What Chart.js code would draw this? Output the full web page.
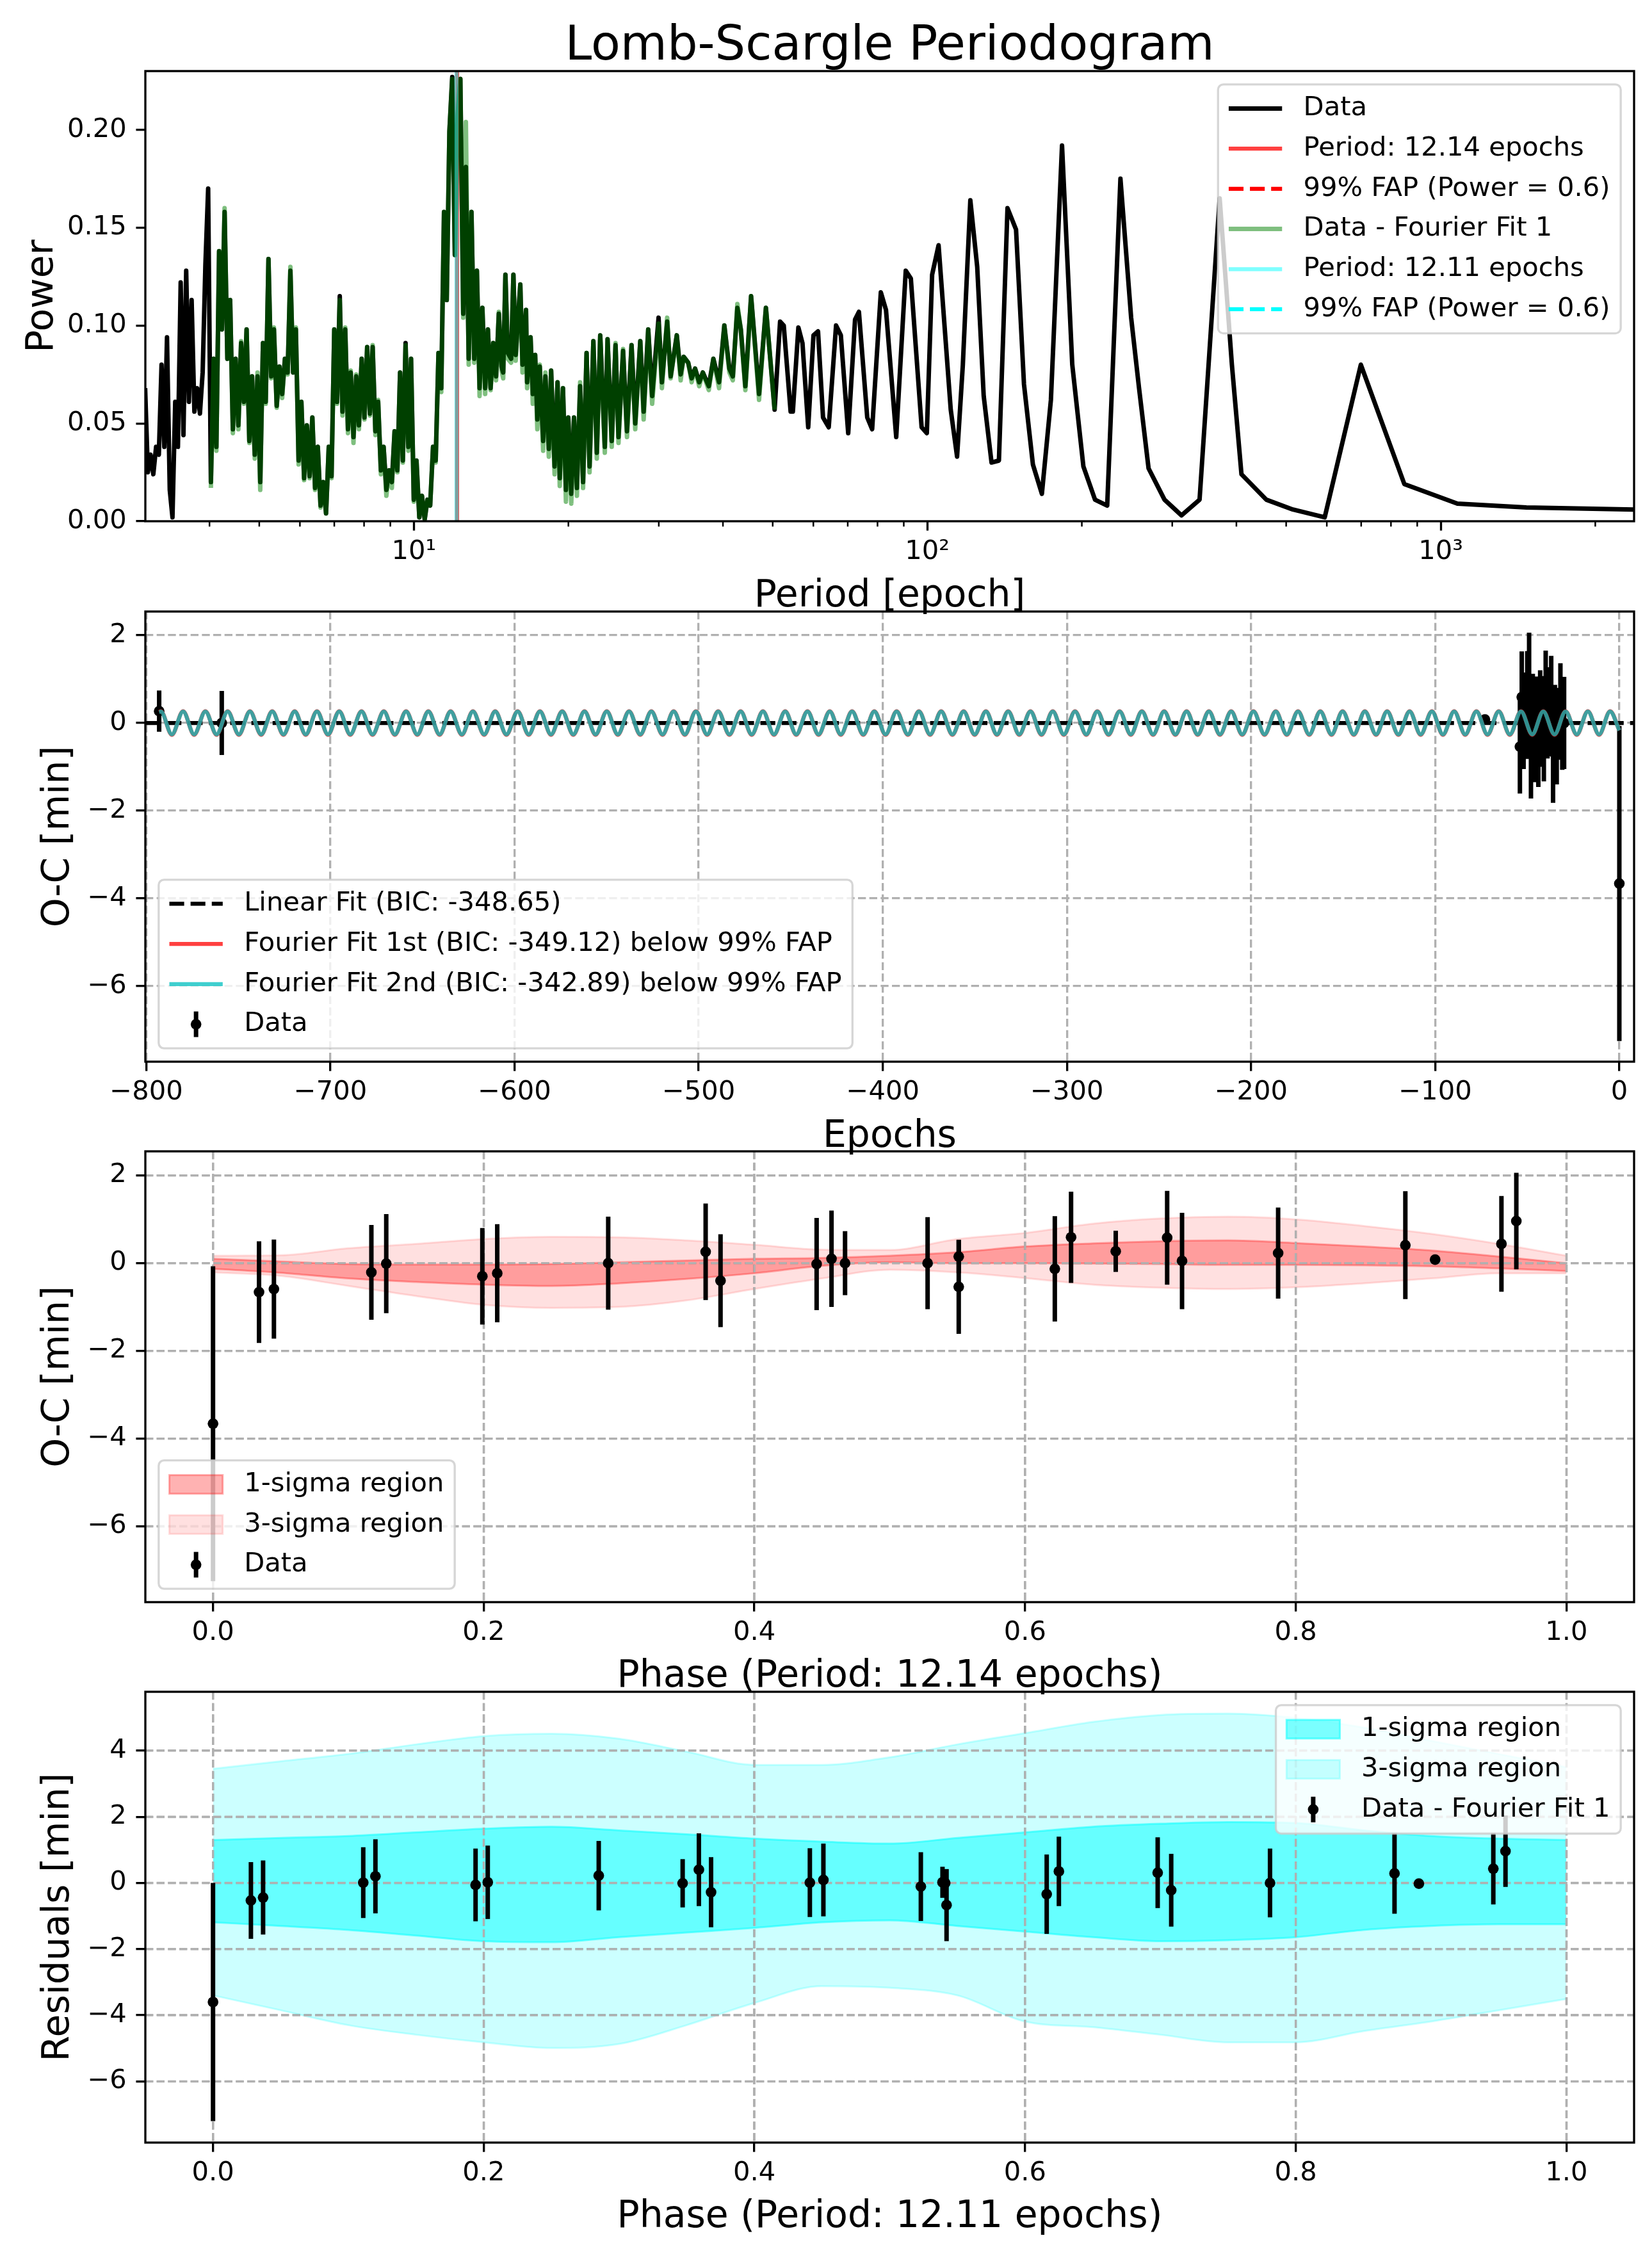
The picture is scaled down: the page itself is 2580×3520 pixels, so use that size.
<!DOCTYPE html>
<html>
<head>
<meta charset="utf-8">
<script src="https://cdn.jsdelivr.net/npm/chart.js@4.4.1/dist/chart.umd.min.js"></script>
<style>
  html, body { margin: 0; padding: 0; background: #fff; }
  body { width: 2580px; height: 3520px; position: relative; overflow: hidden; }
  canvas { position: absolute; left: 0; }
</style>
</head>
<body>
<canvas id="periodogram" width="2580" height="970" style="top:0px"></canvas>
<canvas id="ocEpochs" width="2580" height="920" style="top:900px"></canvas>
<canvas id="ocPhase" width="2580" height="918" style="top:1740px"></canvas>
<canvas id="residPhase" width="2580" height="912" style="top:2590px"></canvas>
<script>
// ---- Periodogram (panel 1) ----
const periods = [
  2.997, 3.034, 3.071, 3.109, 3.148, 3.187, 3.226, 3.266, 3.306, 3.347,
  3.388, 3.430, 3.472, 3.515, 3.559, 3.603, 3.647, 3.692, 3.738, 3.784,
  3.832, 3.879, 3.927, 3.976, 4.025, 4.075, 4.125, 4.176, 4.228, 4.280,
  4.334, 4.388, 4.442, 4.497, 4.553, 4.609, 4.666, 4.724, 4.782, 4.841,
  4.900, 4.961, 5.022, 5.084, 5.147, 5.211, 5.275, 5.340, 5.407, 5.473,
  5.541, 5.610, 5.679, 5.749, 5.820, 5.892, 5.965, 6.039, 6.114, 6.189,
  6.266, 6.344, 6.422, 6.501, 6.582, 6.663, 6.746, 6.829, 6.914, 6.999,
  7.086, 7.174, 7.262, 7.352, 7.443, 7.535, 7.629, 7.723, 7.818, 7.915,
  8.013, 8.112, 8.212, 8.314, 8.417, 8.521, 8.627, 8.733, 8.841, 8.951,
  9.062, 9.174, 9.288, 9.402, 9.519, 9.637, 9.756, 9.877, 9.999, 10.12,
  10.25, 10.37, 10.50, 10.63, 10.76, 10.90, 11.03, 11.17, 11.31, 11.45,
  11.59, 11.73, 11.88, 12.02, 12.17, 12.32, 12.48, 12.63, 12.79, 12.95,
  13.11, 13.27, 13.43, 13.60, 13.77, 13.94, 14.11, 14.28, 14.46, 14.64,
  14.82,
  14.93, 15.08, 15.24, 15.47, 15.63, 15.79, 16.12, 16.28, 16.54, 16.62,
  16.88, 17.05, 17.23, 17.40, 17.59, 17.86, 18.04, 18.32, 18.51, 18.80,
  19.05, 19.24, 19.52, 19.78, 19.99, 20.26, 20.51, 20.78, 21.08, 21.36,
  21.70, 21.99, 22.37, 22.72, 23.07, 23.55, 23.84, 24.29, 24.71, 25.04,
  25.56, 26.01, 26.55, 26.99, 27.61, 28.03, 28.61, 29.12, 29.97, 30.42,
  31.15, 31.64, 32.52, 33.09, 33.54, 34.23, 34.76, 35.30, 35.96, 36.55,
  37.54, 38.32, 39.31, 40.25, 41.17, 41.81, 42.67, 43.34, 44.23, 45.38,
  47.03, 48.50, 50.43, 51.68, 52.54, 54.18, 54.73, 56.10, 57.14, 58.63,
  60.03, 61.27, 62.66, 64.28, 66.43, 67.87, 70.15, 72.33,
  73.6, 76.4, 78.1, 81.2, 83.1, 87.0, 90.8, 92.9, 97.5, 99.8,
  102.2, 105.2, 111.1, 114.3, 117.3, 121.3, 125.1, 128.8, 133.4, 137.9,
  143.3, 148.9, 154.3, 160.6, 167.2, 174.1, 183.0, 191.6, 201.4, 212.2,
  224.1, 237.8, 249.5, 258.5, 269.8, 289.8, 312.7, 339.1, 371.1, 392.0,
  409.2, 457.5, 515.3, 594.4, 698.9, 849.4, 1077.6, 1468.5, 2379
];
const power = [
  0.068, 0.025, 0.034, 0.024, 0.038, 0.034, 0.080, 0.038, 0.094, 0.016,
  0.002, 0.061, 0.038, 0.122, 0.044, 0.128, 0.061, 0.113, 0.056, 0.068,
  0.055, 0.076, 0.131, 0.170, 0.020, 0.083, 0.038, 0.138, 0.098, 0.158,
  0.083, 0.113, 0.047, 0.083, 0.049, 0.091, 0.061, 0.098, 0.041, 0.074,
  0.034, 0.074, 0.020, 0.091, 0.061, 0.134, 0.074, 0.098, 0.059, 0.079,
  0.065, 0.083, 0.076, 0.128, 0.076, 0.098, 0.031, 0.061, 0.022, 0.049,
  0.023, 0.053, 0.017, 0.038, 0.008, 0.020, 0.004, 0.038, 0.023, 0.098,
  0.061, 0.115, 0.056, 0.098, 0.047, 0.076, 0.043, 0.074, 0.049, 0.083,
  0.053, 0.089, 0.055, 0.089, 0.046, 0.061, 0.026, 0.038, 0.016, 0.026,
  0.020, 0.046, 0.026, 0.076, 0.031, 0.091, 0.038, 0.083, 0.011, 0.031,
  0.002, 0.013, 0.001, 0.011, 0.008, 0.038, 0.031, 0.086, 0.068, 0.158,
  0.113, 0.199, 0.227, 0.136, 0.207, 0.226, 0.106, 0.181, 0.083, 0.158,
  0.083, 0.128, 0.068, 0.109, 0.068, 0.098, 0.068, 0.091, 0.074, 0.106,
  0.079,
  0.076, 0.126, 0.086, 0.083, 0.126, 0.085, 0.121, 0.080, 0.108, 0.071,
  0.094, 0.065, 0.085, 0.052, 0.079, 0.041, 0.074, 0.037, 0.077, 0.028,
  0.071, 0.022, 0.068, 0.016, 0.053, 0.014, 0.053, 0.017, 0.069, 0.020,
  0.086, 0.028, 0.092, 0.035, 0.095, 0.038, 0.093, 0.041, 0.090, 0.043,
  0.087, 0.046, 0.090, 0.050, 0.092, 0.056, 0.098, 0.064, 0.104, 0.071,
  0.102, 0.074, 0.095, 0.075, 0.084, 0.081, 0.073, 0.078, 0.071, 0.076,
  0.069, 0.083, 0.071, 0.100, 0.078, 0.074, 0.109, 0.098, 0.069, 0.115,
  0.065, 0.109, 0.057, 0.102, 0.100, 0.056, 0.056, 0.099, 0.091, 0.048,
  0.095, 0.097, 0.053, 0.048, 0.100, 0.095, 0.045, 0.103,
  0.107, 0.053, 0.047, 0.117, 0.108, 0.043, 0.128, 0.124, 0.048, 0.045,
  0.126, 0.141, 0.057, 0.033, 0.080, 0.164, 0.130, 0.064, 0.030, 0.031,
  0.160, 0.149, 0.070, 0.029, 0.014, 0.062, 0.192, 0.080, 0.028, 0.011,
  0.008, 0.175, 0.104, 0.068, 0.027, 0.011, 0.003, 0.011, 0.165, 0.080,
  0.024, 0.011, 0.006, 0.002, 0.080, 0.019, 0.009, 0.007, 0.006
];
// periodogram of (data - Fourier fit 1), on the same period grid from 4.0 to 50 epochs
const residGridStart = 24;
const residPower = [
  0.017, 0.083, 0.036, 0.138, 0.098, 0.160, 0.083, 0.113, 0.045, 0.083,
  0.047, 0.092, 0.060, 0.098, 0.040, 0.074, 0.032, 0.076, 0.016, 0.091,
  0.060, 0.134, 0.073, 0.099, 0.058, 0.079, 0.063, 0.083, 0.075, 0.130,
  0.076, 0.099, 0.029, 0.061, 0.021, 0.049, 0.022, 0.053, 0.016, 0.038,
  0.007, 0.020, 0.004, 0.038, 0.022, 0.098, 0.060, 0.113, 0.054, 0.099,
  0.045, 0.077, 0.040, 0.075, 0.047, 0.083, 0.052, 0.089, 0.054, 0.090,
  0.044, 0.062, 0.024, 0.038, 0.013, 0.026, 0.017, 0.046, 0.025, 0.076,
  0.030, 0.090, 0.036, 0.083, 0.010, 0.031, 0.002, 0.013, 0.001, 0.011,
  0.008, 0.038, 0.030, 0.086, 0.066, 0.158, 0.113, 0.199, 0.226, 0.136,
  0.207, 0.226, 0.104, 0.204, 0.080, 0.158, 0.081, 0.128, 0.064, 0.109,
  0.065, 0.098, 0.067, 0.091, 0.072, 0.107, 0.077,
  0.073, 0.126, 0.083, 0.081, 0.126, 0.082, 0.121, 0.076, 0.108, 0.068,
  0.094, 0.060, 0.085, 0.047, 0.080, 0.036, 0.076, 0.033, 0.077, 0.024,
  0.071, 0.018, 0.068, 0.010, 0.053, 0.009, 0.053, 0.013, 0.071, 0.017,
  0.086, 0.025, 0.092, 0.032, 0.095, 0.035, 0.093, 0.038, 0.091, 0.040,
  0.088, 0.043, 0.090, 0.047, 0.092, 0.052, 0.098, 0.060, 0.101, 0.068,
  0.104, 0.073, 0.095, 0.072, 0.084, 0.081, 0.071, 0.078, 0.069, 0.076,
  0.067, 0.083, 0.068, 0.100, 0.076, 0.072, 0.111, 0.098, 0.067, 0.115,
  0.062, 0.109, 0.057
];
const bestPeriod1 = 12.14;
const bestPeriod2 = 12.11;
const fapPower = 0.6;
const logMajorTicks = [10, 100, 1000];
const logMinorTicks = [4, 5, 6, 7, 8, 9, 20, 30, 40, 50, 60, 70, 80, 90,
                       200, 300, 400, 500, 600, 700, 800, 900, 2000];
const logTickLabels = { 10: '10\u00b9', 100: '10\u00b2', 1000: '10\u00b3' };
const powerTicks = [0, 0.05, 0.10, 0.15, 0.20];

// ---- O-C data (panels 2 and 3) ----
const ocEpochs = [-793, -759, -73, -54, -53, -52, -50, -49, -48, -47, -46, -45, -44,
                  -43, -42, -41, -40, -39, -37, -36, -35, -34, -32, -31, -30, 0];
const ocValues = [0.27, 0.00, 0.08, -0.54, 0.59, 0.05, 0.41, 0.96, -0.59, -0.01, -0.23, 0.00, -0.40,
                  0.10, 0.15, -0.13, 0.58, 0.23, 0.44, -0.66, -0.21, -0.30, 0.26, -0.02, 0.00, -3.66];
const ocErrors = [0.47, 0.73, 0.10, 1.07, 1.04, 1.10, 1.23, 1.10, 1.13, 1.13, 1.12, 1.06, 1.06,
                  1.10, 0.38, 1.20, 1.07, 1.04, 1.09, 1.16, 1.08, 1.10, 1.10, 1.05, 1.05, 3.59];
const ocPhases = [0.667, 0.467, 0.903, 0.551, 0.634, 0.716, 0.881, 0.963, 0.045, 0.128, 0.210, 0.292, 0.375,
                  0.457, 0.551, 0.622, 0.705, 0.787, 0.952, 0.034, 0.117, 0.199, 0.364, 0.446, 0.528, 0.000];
const epochTicks = [-800, -700, -600, -500, -400, -300, -200, -100, 0];
const ocTicks = [-6, -4, -2, 0, 2];
const phaseTicks = [0, 0.2, 0.4, 0.6, 0.8, 1.0];
const residTicks = [-6, -4, -2, 0, 2, 4];

// Fourier fits: epochs of the crests and troughs of the fitted curve
const fitCrestEpochs = [
  -792.1, -780.0, -767.9, -755.8, -743.7, -731.6, -719.4, -707.3, -695.2, -683.1,
  -671.0, -658.9, -646.8, -634.7, -622.6, -610.5, -598.3, -586.2, -574.1, -562.0,
  -549.9, -537.8, -525.7, -513.6, -501.5, -489.4, -477.2, -465.1, -453.0, -440.9,
  -428.8, -416.7, -404.6, -392.5, -380.4, -368.3, -356.1, -344.0, -331.9, -319.8,
  -307.7, -295.6, -283.5, -271.4, -259.3, -247.2, -235.0, -222.9, -210.8, -198.7,
  -186.6, -174.5, -162.4, -150.3, -138.2, -126.1, -113.9, -101.8, -89.7, -77.6,
  -65.5, -53.4, -41.3, -29.2, -17.1, -5.0
];
const fitTroughEpochs = [
  -786.1, -774.0, -761.8, -749.7, -737.6, -725.5, -713.4, -701.3, -689.2, -677.1,
  -665.0, -652.8, -640.7, -628.6, -616.5, -604.4, -592.3, -580.2, -568.1, -556.0,
  -543.9, -531.7, -519.6, -507.5, -495.4, -483.3, -471.2, -459.1, -447.0, -434.9,
  -422.8, -410.6, -398.5, -386.4, -374.3, -362.2, -350.1, -338.0, -325.9, -313.8,
  -301.7, -289.5, -277.4, -265.3, -253.2, -241.1, -229.0, -216.9, -204.8, -192.7,
  -180.6, -168.4, -156.3, -144.2, -132.1, -120.0, -107.9, -95.8, -83.7, -71.6,
  -59.5, -47.3, -35.2, -23.1, -11.0
];
const fitEnds = [{ x: -793, y: 0.25 }, { x: 0, y: -0.17 }];
const fit1Amplitude = 0.27;
const fit2Amplitude = 0.26;
const linearFitEpochs = [-800.5, 8];
const linearFitValues = [0.0, 0.0];

// ---- confidence regions (panels 3 and 4) ----
const bandPhases = [0, 0.05, 0.1, 0.15, 0.2, 0.25, 0.3, 0.35, 0.4, 0.45, 0.5,
                    0.55, 0.6, 0.65, 0.7, 0.75, 0.8, 0.85, 0.9, 0.95, 1.0];
const ocSigma1Upper = [0.10, 0.04, -0.02, -0.03, -0.03, -0.02, 0.02, 0.06, 0.10, 0.12, 0.17,
                       0.25, 0.38, 0.45, 0.50, 0.52, 0.46, 0.38, 0.29, 0.15, 0.00];
const ocSigma1Lower = [-0.13, -0.22, -0.35, -0.43, -0.49, -0.52, -0.46, -0.36, -0.23, -0.06, 0.02,
                       0.00, 0.00, -0.01, -0.02, -0.04, -0.04, -0.05, -0.07, -0.12, -0.18];
const ocSigma3Upper = [0.17, 0.18, 0.34, 0.44, 0.55, 0.60, 0.59, 0.52, 0.42, 0.31, 0.30,
                       0.55, 0.69, 0.90, 1.02, 1.06, 1.00, 0.85, 0.67, 0.44, 0.17];
const ocSigma3Lower = [-0.21, -0.29, -0.52, -0.75, -0.95, -1.02, -1.00, -0.85, -0.59, -0.35, -0.15,
                       -0.21, -0.34, -0.49, -0.56, -0.59, -0.55, -0.46, -0.35, -0.23, -0.23];
const resSigma1Upper = [1.30, 1.36, 1.42, 1.53, 1.64, 1.70, 1.59, 1.47, 1.34, 1.25, 1.19,
                        1.36, 1.53, 1.70, 1.79, 1.84, 1.81, 1.59, 1.42, 1.34, 1.30];
const resSigma1Lower = [-1.19, -1.30, -1.42, -1.59, -1.76, -1.79, -1.64, -1.50, -1.36, -1.19, -1.13,
                        -1.30, -1.47, -1.64, -1.76, -1.73, -1.64, -1.42, -1.30, -1.25, -1.25];
const resSigma3Upper = [3.45, 3.68, 3.90, 4.19, 4.44, 4.51, 4.36, 3.97, 3.57, 3.57, 3.80,
                        4.19, 4.53, 4.87, 5.08, 5.12, 4.99, 4.70, 4.30, 3.90, 3.50];
const resSigma3Lower = [-3.40, -3.85, -4.30, -4.59, -4.82, -4.99, -4.87, -4.30, -3.63, -3.12, -3.17,
                        -3.40, -4.19, -4.36, -4.59, -4.82, -4.82, -4.48, -4.19, -3.85, -3.51];

// ---- residuals after Fourier fit 1 (panel 4) ----
const residPhases = [0.000, 0.028, 0.037, 0.111, 0.120, 0.194, 0.203, 0.285, 0.347, 0.359, 0.368, 0.441, 0.451,
                     0.523, 0.539, 0.541, 0.542, 0.616, 0.625, 0.698, 0.708, 0.781, 0.873, 0.891, 0.946, 0.955];
const residValues = [-3.60, -0.53, -0.44, 0.01, 0.20, -0.06, 0.02, 0.22, -0.01, 0.40, -0.28, 0.01, 0.09,
                     -0.11, 0.02, 0.00, -0.67, -0.34, 0.35, 0.31, -0.22, 0.00, 0.29, -0.02, 0.43, 0.96];
const residErrors = [3.60, 1.16, 1.12, 1.07, 1.12, 1.10, 1.11, 1.05, 0.73, 1.10, 1.06, 1.04, 1.10,
                     1.04, 0.47, 0.38, 1.09, 1.20, 1.05, 1.07, 1.10, 1.04, 1.22, 0.10, 1.08, 1.08];

// ---- styling ----
const PT = 300 / 72;
const TICK_PX = 10 * PT;
const LABEL_PX = 14 * PT;
const TITLE_PX = 18 * PT;
const SPINE_W = 0.8 * PT;
const LINE_W = 1.5 * PT;
const ERR_W = 7;
const MARKER_R = 2 * PT;
const GRID_COLOR = '#b0b0b0';
const GRID_DASH = [3.7 * 0.8 * PT, 1.6 * 0.8 * PT];
const LINE_DASH = [3.7 * LINE_W, 1.6 * LINE_W];
const AXES_LEFT = 227;
const AXES_RIGHT = 2552;

Chart.defaults.font.family = '"DejaVu Sans", sans-serif';
Chart.defaults.color = '#000';

const withMinus = s => String(s).replace('-', '\u2212');
const xy = (xs, ys) => xs.map((x, i) => ({ x, y: ys[i] }));

// axes box around the plot area
const frame = {
  id: 'frame',
  afterDatasetsDraw(chart) {
    const { ctx, chartArea: a } = chart;
    ctx.save();
    ctx.strokeStyle = '#000';
    ctx.lineWidth = SPINE_W;
    ctx.strokeRect(a.left, a.top, a.right - a.left, a.bottom - a.top);
    ctx.restore();
  }
};

// grid lines above the shaded regions, and error bars under the markers
const marks = {
  id: 'marks',
  beforeDatasetDraw(chart, args) {
    const ds = chart.data.datasets[args.index];
    const { ctx, chartArea: a, scales: { x, y } } = chart;
    ctx.save();
    ctx.beginPath();
    ctx.rect(a.left, a.top, a.right - a.left, a.bottom - a.top);
    ctx.clip();
    if (ds.gridUnder) {
      ctx.strokeStyle = GRID_COLOR;
      ctx.lineWidth = SPINE_W;
      ctx.setLineDash(GRID_DASH);
      x.ticks.forEach(t => {
        const px = x.getPixelForValue(t.value);
        ctx.beginPath(); ctx.moveTo(px, a.top); ctx.lineTo(px, a.bottom); ctx.stroke();
      });
      y.ticks.forEach(t => {
        const py = y.getPixelForValue(t.value);
        ctx.beginPath(); ctx.moveTo(a.left, py); ctx.lineTo(a.right, py); ctx.stroke();
      });
      ctx.setLineDash([]);
    }
    if (ds.errorBars) {
      ctx.strokeStyle = '#000';
      ctx.lineWidth = ERR_W;
      ds.data.forEach((p, i) => {
        const e = ds.errorBars[i];
        const px = x.getPixelForValue(p.x);
        ctx.beginPath();
        ctx.moveTo(px, y.getPixelForValue(p.y - e));
        ctx.lineTo(px, y.getPixelForValue(p.y + e));
        ctx.stroke();
      });
    }
    ctx.restore();
  }
};

// legend box drawn inside the axes, matplotlib style
const mplLegend = {
  id: 'mplLegend',
  afterDraw(chart, args, opts) {
    const items = chart.data.datasets.filter(d => d.legendKind);
    if (!items.length || !opts.corner) return;
    const { ctx, chartArea: a } = chart;
    const em = TICK_PX;
    const pad = 0.4 * em, handleLen = 2 * em, textGap = 0.8 * em;
    const rowH = 1.005 * em, rowGap = 0.5 * em, inset = 0.5 * em;
    ctx.save();
    ctx.font = `${em}px "DejaVu Sans"`;
    const textW = Math.max(...items.map(d => ctx.measureText(d.label).width));
    const w = 2 * pad + handleLen + textGap + textW;
    const h = 2 * pad + items.length * rowH + (items.length - 1) * rowGap;
    const x0 = opts.corner === 'ur' ? a.right - inset - w : a.left + inset;
    const y0 = opts.corner === 'ur' ? a.top + inset : a.bottom - inset - h;
    ctx.beginPath();
    if (ctx.roundRect) ctx.roundRect(x0, y0, w, h, 0.2 * em); else ctx.rect(x0, y0, w, h);
    ctx.fillStyle = 'rgba(255,255,255,0.8)';
    ctx.fill();
    ctx.lineWidth = SPINE_W;
    ctx.strokeStyle = 'rgba(204,204,204,0.8)';
    ctx.stroke();
    items.forEach((d, i) => {
      const cy = y0 + pad + i * (rowH + rowGap) + rowH / 2;
      const hx = x0 + pad;
      if (d.legendKind === 'line') {
        ctx.beginPath();
        ctx.setLineDash(d.borderDash || []);
        ctx.strokeStyle = d.borderColor;
        ctx.lineWidth = d.borderWidth;
        ctx.moveTo(hx, cy); ctx.lineTo(hx + handleLen, cy);
        ctx.stroke();
        ctx.setLineDash([]);
      } else if (d.legendKind === 'patch') {
        const ph = 0.7 * em;
        ctx.fillStyle = d.backgroundColor;
        ctx.fillRect(hx, cy - ph / 2, handleLen, ph);
        ctx.strokeStyle = d.borderColor;
        ctx.lineWidth = d.borderWidth;
        ctx.strokeRect(hx, cy - ph / 2, handleLen, ph);
      } else if (d.legendKind === 'errorbar') {
        const cx = hx + handleLen / 2;
        ctx.strokeStyle = '#000';
        ctx.lineWidth = ERR_W;
        ctx.beginPath(); ctx.moveTo(cx, cy - 0.48 * em); ctx.lineTo(cx, cy + 0.48 * em); ctx.stroke();
        ctx.fillStyle = '#000';
        ctx.beginPath(); ctx.arc(cx, cy, MARKER_R, 0, 2 * Math.PI); ctx.fill();
      }
      ctx.fillStyle = '#000';
      ctx.textAlign = 'left';
      ctx.textBaseline = 'middle';
      ctx.fillText(d.label, hx + handleLen + textGap, cy);
    });
    ctx.restore();
  }
};

// minor ticks of the log period axis
const minorTicks = {
  id: 'minorTicks',
  afterDatasetsDraw(chart) {
    const { ctx, chartArea: a, scales: { x } } = chart;
    ctx.save();
    ctx.strokeStyle = '#000';
    ctx.lineWidth = 0.6 * PT;
    logMinorTicks.forEach(v => {
      const px = x.getPixelForValue(v);
      if (px < a.left || px > a.right) return;
      ctx.beginPath(); ctx.moveTo(px, a.bottom); ctx.lineTo(px, a.bottom + 2 * PT); ctx.stroke();
    });
    ctx.restore();
  }
};

Chart.register(frame, marks, mplLegend);

function linearAxis(o) {
  return {
    type: 'linear', min: o.min, max: o.max,
    afterBuildTicks: s => { s.ticks = o.ticks.map(value => ({ value })); },
    afterFit: s => { if (o.horizontal) s.height = o.size; else s.width = o.size; },
    ticks: {
      autoSkip: false, maxRotation: 0,
      font: { size: TICK_PX }, padding: o.horizontal ? 8.4 : 3.5 * PT,
      callback: v => withMinus(o.fmt(v))
    },
    grid: {
      display: true, drawOnChartArea: o.grid, color: GRID_COLOR, lineWidth: SPINE_W,
      tickLength: 3.5 * PT, tickWidth: SPINE_W, tickColor: '#000'
    },
    border: { display: false, dash: GRID_DASH },
    title: {
      display: true, text: o.title, font: { size: LABEL_PX },
      padding: o.horizontal ? { top: 0, bottom: o.titlePad } : { top: o.titlePad, bottom: 0 }
    }
  };
}

function baseOptions(padTop, corner, scales, extraPlugins) {
  return {
    responsive: false, animation: false, devicePixelRatio: 1, events: [],
    layout: { padding: { top: padTop, right: 2580 - AXES_RIGHT, left: 0, bottom: 0 } },
    plugins: Object.assign({
      legend: { display: false }, tooltip: { enabled: false },
      mplLegend: { corner }
    }, extraPlugins || {}),
    scales
  };
}

function line(label, data, color, width, order, extra) {
  return Object.assign({
    label, data, borderColor: color, backgroundColor: color, borderWidth: width,
    pointRadius: 0, fill: false, tension: 0, borderJoinStyle: 'round', order
  }, extra || {});
}

function points(label, data, errors, extra) {
  return Object.assign({
    label, data, errorBars: errors, showLine: false, legendKind: 'errorbar',
    pointRadius: MARKER_R, pointBackgroundColor: '#000', pointBorderWidth: 0, order: 0
  }, extra || {});
}

function band(label, upper, lower, color, order) {
  const smooth = { cubicInterpolationMode: 'monotone' };
  return [
    line(label, xy(bandPhases, upper), color, 3, order, Object.assign({ fill: '+1', legendKind: 'patch' }, smooth)),
    line('', xy(bandPhases, lower), color, 3, order, smooth)
  ];
}

function fitCurve(amplitude) {
  return fitCrestEpochs.map(x => ({ x, y: amplitude }))
    .concat(fitTroughEpochs.map(x => ({ x, y: -amplitude })), fitEnds)
    .sort((p, q) => p.x - q.x);
}

// ---- panel 1: periodogram ----
const powerMax = 0.230;
const vertical = p => [{ x: p, y: 0 }, { x: p, y: powerMax }];
const horizontal = v => [{ x: 3.0, y: v }, { x: 2380, y: v }];
new Chart(document.getElementById('periodogram'), {
  type: 'line',
  data: {
    datasets: [
      line('Data', xy(periods, power), '#000', 7, 6, { legendKind: 'line' }),
      line('Period: 12.14 epochs', vertical(bestPeriod1), 'rgba(255,0,0,0.75)', LINE_W, 5, { legendKind: 'line' }),
      line('99% FAP (Power = 0.6)', horizontal(fapPower), '#ff0000', LINE_W, 4, { legendKind: 'line', borderDash: LINE_DASH }),
      line('Data - Fourier Fit 1', xy(periods.slice(residGridStart, residGridStart + residPower.length), residPower),
           'rgba(0,128,0,0.5)', 7, 3, { legendKind: 'line' }),
      line('Period: 12.11 epochs', vertical(bestPeriod2), 'rgba(0,255,255,0.5)', LINE_W, 2, { legendKind: 'line' }),
      line('99% FAP (Power = 0.6)', horizontal(fapPower), '#00ffff', LINE_W, 1, { legendKind: 'line', borderDash: LINE_DASH })
    ]
  },
  options: baseOptions(0, 'ur', {
    x: {
      type: 'logarithmic', min: 3.0, max: 2380,
      afterBuildTicks: s => { s.ticks = logMajorTicks.map(value => ({ value })); },
      afterFit: s => { s.height = 156; },
      ticks: { autoSkip: false, maxRotation: 0, font: { size: TICK_PX }, padding: 8.4,
               callback: v => logTickLabels[v] || '' },
      grid: { display: true, drawOnChartArea: false, tickLength: 3.5 * PT, tickWidth: SPINE_W, tickColor: '#000' },
      border: { display: false },
      title: { display: true, text: 'Period [epoch]', font: { size: LABEL_PX }, padding: { top: 0, bottom: 3 } }
    },
    y: linearAxis({ min: 0, max: powerMax, ticks: powerTicks, fmt: v => v.toFixed(2), title: 'Power',
                    titlePad: 32, horizontal: false, grid: false, size: AXES_LEFT })
  }, {
    title: { display: true, text: 'Lomb-Scargle Periodogram', fullSize: false, color: '#000',
             font: { size: TITLE_PX, weight: 'normal', lineHeight: 1 }, padding: { top: 36, bottom: 0 } }
  }),
  plugins: [minorTicks]
});

// ---- panel 2: O-C against epoch ----
new Chart(document.getElementById('ocEpochs'), {
  type: 'line',
  data: {
    datasets: [
      line('Linear Fit (BIC: -348.65)', xy(linearFitEpochs, linearFitValues), '#000', LINE_W, 3,
           { legendKind: 'line', borderDash: LINE_DASH }),
      line('Fourier Fit 1st (BIC: -349.12) below 99% FAP', fitCurve(fit1Amplitude), 'rgba(255,0,0,0.75)', LINE_W, 2,
           { legendKind: 'line', cubicInterpolationMode: 'monotone' }),
      line('Fourier Fit 2nd (BIC: -342.89) below 99% FAP', fitCurve(fit2Amplitude), 'rgba(0,191,191,0.75)', LINE_W, 1,
           { legendKind: 'line', cubicInterpolationMode: 'monotone' }),
      points('Data', xy(ocEpochs, ocValues), ocErrors, { order: 4 })
    ]
  },
  options: baseOptions(55, 'll', {
    x: linearAxis({ min: -800.5, max: 8, ticks: epochTicks, fmt: v => String(v), title: 'Epochs',
                    titlePad: 9, horizontal: true, grid: true, size: 162 }),
    y: linearAxis({ min: -7.72, max: 2.54, ticks: ocTicks, fmt: v => String(v), title: 'O-C [min]',
                    titlePad: 57, horizontal: false, grid: true, size: AXES_LEFT })
  })
});

// ---- panel 3: O-C folded on 12.14 epochs ----
new Chart(document.getElementById('ocPhase'), {
  type: 'line',
  data: {
    datasets: [
      ...band('1-sigma region', ocSigma1Upper, ocSigma1Lower, 'rgba(255,0,0,0.3)', 1),
      ...band('3-sigma region', ocSigma3Upper, ocSigma3Lower, 'rgba(255,0,0,0.12)', 1),
      points('Data', xy(ocPhases, ocValues), ocErrors, { gridUnder: true })
    ]
  },
  options: baseOptions(58, 'll', {
    x: linearAxis({ min: -0.05, max: 1.05, ticks: phaseTicks, fmt: v => v.toFixed(1), title: 'Phase (Period: 12.14 epochs)',
                    titlePad: 4, horizontal: true, grid: true, size: 156 }),
    y: linearAxis({ min: -7.73, max: 2.55, ticks: ocTicks, fmt: v => String(v), title: 'O-C [min]',
                    titlePad: 57, horizontal: false, grid: true, size: AXES_LEFT })
  })
});

// ---- panel 4: residuals folded on 12.11 epochs ----
new Chart(document.getElementById('residPhase'), {
  type: 'line',
  data: {
    datasets: [
      ...band('1-sigma region', resSigma1Upper, resSigma1Lower, 'rgba(0,255,255,0.5)', 1),
      ...band('3-sigma region', resSigma3Upper, resSigma3Lower, 'rgba(0,255,255,0.2)', 1),
      points('Data - Fourier Fit 1', xy(residPhases, residValues), residErrors, { gridUnder: true })
    ]
  },
  options: baseOptions(52, 'ur', {
    x: linearAxis({ min: -0.05, max: 1.05, ticks: phaseTicks, fmt: v => v.toFixed(1), title: 'Phase (Period: 12.11 epochs)',
                    titlePad: 4, horizontal: true, grid: true, size: 156 }),
    y: linearAxis({ min: -7.85, max: 5.78, ticks: residTicks, fmt: v => String(v), title: 'Residuals [min]',
                    titlePad: 57, horizontal: false, grid: true, size: AXES_LEFT })
  })
});
</script>
</body>
</html>
